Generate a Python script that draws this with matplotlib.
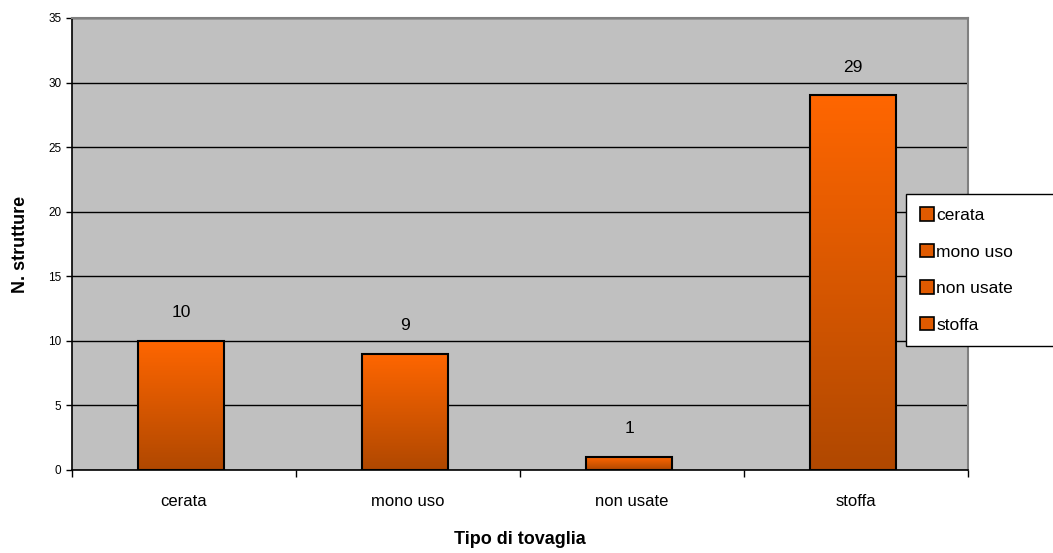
import matplotlib.pyplot as plt
import numpy as np
from matplotlib.colors import LinearSegmentedColormap
from matplotlib.patches import Patch

categories = ['cerata', 'mono uso', 'non usate', 'stoffa']
values = [10, 9, 1, 29]
x_labels = ['cerata', 'mono uso', 'non usate', 'stoffa']

plt.rcParams['font.family'] = ['Liberation Sans', 'DejaVu Sans']

fig = plt.figure(figsize=(10.53, 5.53), dpi=100)
ax = fig.add_axes([72 / 1053, 83 / 553, 896 / 1053, 452 / 553])
ax.set_facecolor('#C0C0C0')

x = np.arange(len(categories))
bars = ax.bar(x - 0.012, values, width=0.385, color='none', edgecolor='black', linewidth=1.5, zorder=3)

# vertical gradient fill for each bar
cmap = LinearSegmentedColormap.from_list('og', ['#B04800', '#FF6600'])
grad = np.linspace(0, 1, 256).reshape(-1, 1)
for b in bars:
    x0, y0 = b.get_x(), b.get_y()
    w, h = b.get_width(), b.get_height()
    im = ax.imshow(grad, cmap=cmap, origin='lower', aspect='auto',
                   extent=[x0, x0 + w, y0, y0 + h], zorder=2)
    im.set_clip_path(b)

for xi, v in zip(x, values):
    ax.text(xi - 0.012, v + 1.6, str(v), ha='center', va='bottom', fontsize=12.5, zorder=4)

ax.set_xlim(-0.5, len(categories) - 0.5)
ax.set_ylim(0, 35)
ax.set_yticks(range(0, 36, 5))
ax.yaxis.grid(True, color='black', linewidth=1)
ax.set_axisbelow(True)
ax.tick_params(axis='y', labelsize=8.5, direction='out', length=4, width=1)

ax.set_xticks(x)
ax.set_xticklabels(x_labels, fontsize=12)
ax.tick_params(axis='x', length=0, pad=17)
ax.set_xticks(np.arange(-0.5, len(categories), 1), minor=True)
ax.tick_params(axis='x', which='minor', length=5, width=1, direction='out')

for s in ['top', 'right']:
    ax.spines[s].set_color('#808080')
    ax.spines[s].set_linewidth(1.5)
ax.spines['left'].set_linewidth(1.2)
ax.spines['bottom'].set_linewidth(1.2)

ax.set_ylabel('N. strutture', fontsize=13, fontweight='bold', labelpad=14)
ax.set_xlabel('Tipo di tovaglia', fontsize=13, fontweight='bold', labelpad=16)

handles = [Patch(facecolor='#E05A00', edgecolor='black', linewidth=1.2) for _ in categories]
leg = fig.legend(handles, categories, loc='center left', mode='expand',
                 bbox_to_anchor=(906 / 1053, (553 - 270) / 553, 160 / 1053, 0),
                 fontsize=12.5, frameon=True, fancybox=False, framealpha=1,
                 handlelength=0.8, handleheight=0.8, handletextpad=0.15,
                 labelspacing=1.2, borderpad=0.8, borderaxespad=0)
leg.get_frame().set_edgecolor('black')
leg.get_frame().set_facecolor('white')
leg.get_frame().set_linewidth(1)

fig.savefig('out.png', dpi=100)
